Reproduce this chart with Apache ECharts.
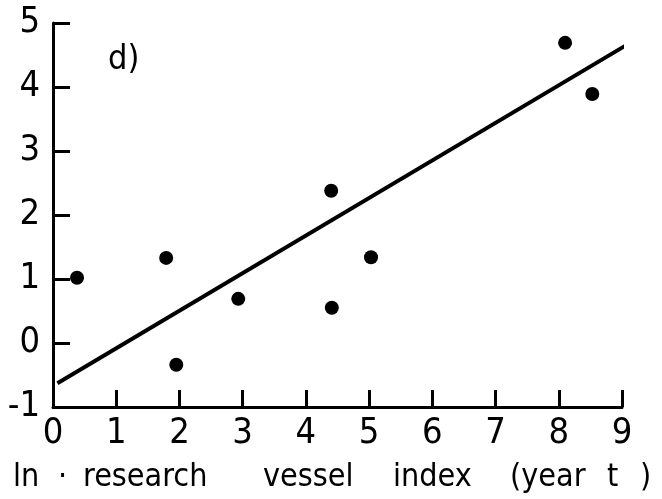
<!DOCTYPE html>
<html>
<head>
<meta charset="utf-8">
<script src="https://cdn.jsdelivr.net/npm/echarts@6/dist/echarts.min.js"></script>
<style>
  html, body { margin: 0; padding: 0; background: #fff; }
  #chart { width: 662px; height: 499px; }
</style>
</head>
<body>
<div id="chart"></div>
<script>
// Observations: ln research vessel index (x) against the response (y)
const vesselIndex = [0.38, 1.79, 1.95, 2.93, 4.41, 4.40, 5.03, 8.10, 8.53];
const response    = [1.02, 1.33, -0.34, 0.69, 0.55, 2.38, 1.34, 4.69, 3.89];

// Fitted regression line end points
const fitX = [0.07, 9.18];
const fitY = [-0.63, 4.72];

const xTicks = [0, 1, 2, 3, 4, 5, 6, 7, 8, 9];
const yTicks = [-1, 0, 1, 2, 3, 4, 5];

// Axis title pieces, each laid out in its own fixed-width box
const titleWords = ['ln', '·', 'research', 'vessel', 'index', '(year', 't', ')'];
const titleBoxes = [45, 25, 180, 130, 117, 97, 33, 13];

const FONT = '"DejaVu Sans Condensed", "Liberation Sans Narrow", "DejaVu Sans", sans-serif';
const INK = '#000';

const chart = echarts.init(document.getElementById('chart'), null, { renderer: 'canvas' });

const axisCommon = {
  type: 'value',
  interval: 1,
  splitLine: { show: false },
  axisLine: { show: true, onZero: false, lineStyle: { color: INK, width: 3 } },
  axisTick: { show: true, inside: true, length: 17, lineStyle: { color: INK, width: 3 } },
  axisLabel: { color: INK, fontFamily: FONT, fontSize: 36 }
};

const titleRich = {};
titleWords.forEach((w, i) => {
  titleRich['w' + i] = {
    width: titleBoxes[i],
    align: 'left',
    color: INK,
    fontFamily: FONT,
    fontSize: 32
  };
});
const titleText = titleWords.map((w, i) => '{w' + i + '|' + w + '}').join('');

chart.setOption({
  animation: false,
  backgroundColor: '#fff',
  title: {
    text: 'd)',
    left: 103,
    top: 38,
    textStyle: { color: INK, fontFamily: FONT, fontSize: 34, fontWeight: 'normal' }
  },
  grid: { left: 53, right: 40, top: 23, bottom: 92, containLabel: false, outerBoundsMode: 'none' },
  xAxis: Object.assign({}, axisCommon, {
    min: xTicks[0],
    max: xTicks[xTicks.length - 1],
    name: titleText,
    nameLocation: 'middle',
    nameGap: 55,
    nameTextStyle: { color: INK, fontFamily: FONT, fontSize: 32, rich: titleRich, padding: [0, 9, 0, 0] },
    axisLabel: Object.assign({}, axisCommon.axisLabel, { margin: 9 })
  }),
  yAxis: Object.assign({}, axisCommon, {
    min: yTicks[0],
    max: yTicks[yTicks.length - 1],
    axisLabel: Object.assign({}, axisCommon.axisLabel, { margin: 13 })
  }),
  series: [
    {
      type: 'line',
      data: fitX.map((x, i) => [x, fitY[i]]),
      clip: false,
      showSymbol: false,
      symbol: 'none',
      lineStyle: { color: INK, width: 4 }
    },
    {
      type: 'scatter',
      data: vesselIndex.map((x, i) => [x, response[i]]),
      symbol: 'circle',
      symbolSize: 14,
      itemStyle: { color: INK, opacity: 1 }
    }
  ]
});
</script>
</body>
</html>
